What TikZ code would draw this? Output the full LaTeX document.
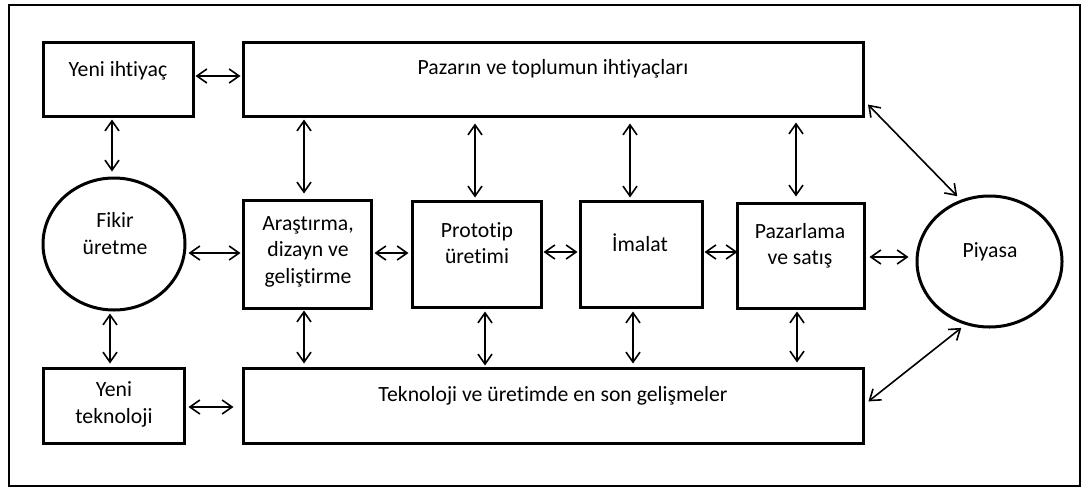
\documentclass[tikz,border=0pt]{standalone}
\usepackage{fontspec}
\setmainfont{Carlito}[Ligatures=NoCommon]
\usetikzlibrary{arrows.meta,shapes.geometric}

\tikzset{
  box/.style={draw, line width=3pt, rectangle, inner sep=0pt},
  oval/.style={draw, line width=3pt, ellipse, inner sep=0pt},
  frame/.style={draw, line width=2.8pt, rectangle, inner sep=0pt},
  lbl/.style={anchor=base, inner sep=0pt, font=\fontsize{21.7}{26.5}\selectfont},
  tip/.style={Straight Barb[length=10pt,width=14pt,line width=1.6pt]},
  link/.style={line width=1.6pt, {Straight Barb[length=10pt,width=14pt,line width=1.6pt]}-{Straight Barb[length=10pt,width=14pt,line width=1.6pt]}},
}

\begin{document}
\begin{tikzpicture}[x=1pt, y=-1pt]
  \useasboundingbox (0,0) rectangle (1086,490);

  % outer frame
  \node[frame, minimum width=1071pt, minimum height=481pt] (border) at (544.5,245.5) {};

  % top row
  \node[box, minimum width=150pt, minimum height=74pt] (yeni) at (118,79) {};
  \node[box, minimum width=620pt, minimum height=74pt] (pazar) at (553,79) {};

  % middle row
  \node[oval, minimum width=142pt, minimum height=132pt] (fikir) at (114,244) {};
  \node[box, minimum width=128pt, minimum height=108pt] (arast) at (307,254) {};
  \node[box, minimum width=129pt, minimum height=106pt] (proto) at (476.5,254) {};
  \node[box, minimum width=122pt, minimum height=106pt] (imalat) at (641,254) {};
  \node[box, minimum width=127pt, minimum height=105pt] (pazarl) at (800.5,255.5) {};
  \node[oval, minimum width=145pt, minimum height=131pt] (piyasa) at (989.5,261.5) {};

  % bottom row
  \node[box, minimum width=141pt, minimum height=75pt] (yenitek) at (113.5,405.5) {};
  \node[box, minimum width=620pt, minimum height=75pt] (tekno) at (553,405.5) {};

  % texts
  \node[lbl] (t-yeni) at (118,76) {Yeni ihtiyaç};
  \node[lbl] (t-pazar) at (553,74) {Pazarın ve toplumun ihtiyaçları};
  \node[lbl] (t-fikir1) at (115,227) {Fikir};
  \node[lbl] (t-fikir2) at (115,254) {üretme};
  \node[lbl] (t-arast1) at (308,230) {Araştırma,};
  \node[lbl] (t-arast2) at (308,256) {dizayn ve};
  \node[lbl] (t-arast3) at (308,283) {geliştirme};
  \node[lbl] (t-proto1) at (477,237) {Prototip};
  \node[lbl] (t-proto2) at (477,263) {üretimi};
  \node[lbl] (t-imalat) at (640,251) {İmalat};
  \node[lbl] (t-pazarl1) at (800,238) {Pazarlama};
  \node[lbl] (t-pazarl2) at (800,264) {ve satış};
  \node[lbl] (t-piyasa) at (990,257) {Piyasa};
  \node[lbl] (t-yenitek1) at (114,396) {Yeni};
  \node[lbl] (t-yenitek2) at (114,423) {teknoloji};
  \node[lbl] (t-tekno) at (553,401) {Teknoloji ve üretimde en son gelişmeler};

  % horizontal connectors
  \draw[link, shorten <=1pt, shorten >=1pt] (yeni.east |- 0,76) -- (pazar.west |- 0,76);
  \draw[link, shorten <=2pt, shorten >=1pt] (fikir.east |- 0,253) -- (arast.west |- 0,253);
  \draw[link, shorten <=2pt, shorten >=2pt] (arast.east |- 0,253) -- (proto.west |- 0,253);
  \draw[link, shorten <=1pt, shorten >=1pt] (proto.east |- 0,252) -- (imalat.west |- 0,252);
  \draw[link, shorten <=1pt, shorten >=-2pt] (imalat.east |- 0,252) -- (pazarl.west |- 0,252);
  \draw[link, shorten <=4pt, shorten >=7pt] (pazarl.east |- 0,257) -- (piyasa.west |- 0,257);
  \draw[link, shorten <=3pt, shorten >=8pt] (yenitek.east |- 0,407) -- (tekno.west |- 0,407);

  % vertical connectors, upper band
  \draw[link, shorten <=2pt, shorten >=5pt] (112,0 |- yeni.south) -- (112,0 |- fikir.north);
  \draw[link, shorten <=2pt, shorten >=5pt] (304,0 |- pazar.south) -- (304,0 |- arast.north);
  \draw[link, shorten <=6pt, shorten >=2pt] (475,0 |- pazar.south) -- (475,0 |- proto.north);
  \draw[link, shorten <=6pt, shorten >=2pt] (630,0 |- pazar.south) -- (630,0 |- imalat.north);
  \draw[link, shorten <=5pt, shorten >=5pt] (796,0 |- pazar.south) -- (796,0 |- pazarl.north);

  % vertical connectors, lower band
  \draw[link, shorten <=2pt, shorten >=3pt] (110,0 |- fikir.south) -- (110,0 |- yenitek.north);
  \draw[link, shorten <=1pt, shorten >=3pt] (304,0 |- arast.south) -- (304,0 |- tekno.north);
  \draw[link, shorten <=3pt, shorten >=1pt] (485,0 |- proto.south) -- (485,0 |- tekno.north);
  \draw[link, shorten <=3pt, shorten >=3pt] (633,0 |- imalat.south) -- (633,0 |- tekno.north);
  \draw[link, shorten <=2pt, shorten >=4pt] (797,0 |- pazarl.south) -- (797,0 |- tekno.north);

  % diagonal connectors to the market
  \draw[link, shorten <=5pt, shorten >=5pt] ([yshift=-22pt]pazar.east) -- (piyasa.115);
  \draw[link, shorten <=5pt, shorten >=5pt] ([yshift=1pt]tekno.east) -- (piyasa.-111);
\end{tikzpicture}
\end{document}
